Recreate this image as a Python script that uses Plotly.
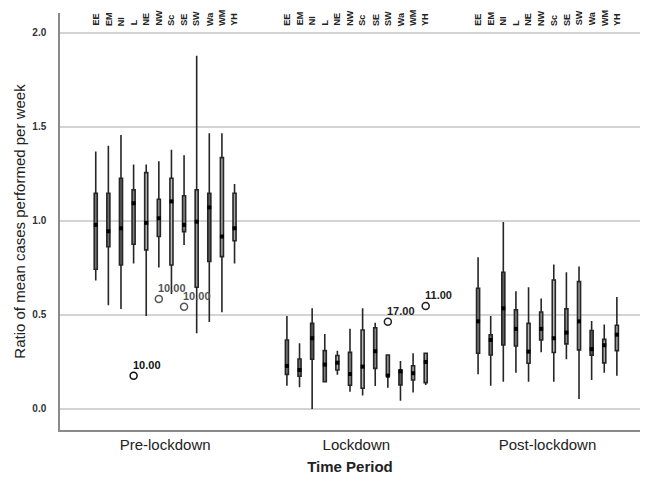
import plotly.graph_objects as go

periods = ["Pre-lockdown", "Lockdown", "Post-lockdown"]
regions = ["EE", "EM", "NI", "L", "NE", "NW", "Sc", "SE", "SW", "Wa", "WM", "YH"]
region_colors = ["#7a7a7a", "#6e6e6e", "#5e5e5e", "#808080", "#b4b4b4", "#8c8c8c",
                 "#bdbdbd", "#8a8a8a", "#9a9a9a", "#5c5c5c", "#aaaaaa", "#a2a2a2"]

# Pre-lockdown statistics (per region)
pre_lower = [0.683, 0.552, 0.532, 0.773, 0.495, 0.752, 0.612, 0.872, 0.403, 0.463, 0.514, 0.773]
pre_q1 = [0.743, 0.863, 0.766, 0.876, 0.846, 0.917, 0.766, 0.943, 0.647, 0.784, 0.810, 0.895]
pre_median = [0.979, 0.945, 0.961, 1.094, 0.990, 1.014, 1.104, 0.979, 0.996, 1.072, 0.917, 0.961]
pre_q3 = [1.147, 1.147, 1.227, 1.165, 1.257, 1.115, 1.227, 1.134, 1.165, 1.147, 1.337, 1.147]
pre_upper = [1.369, 1.400, 1.457, 1.300, 1.300, 1.317, 1.378, 1.349, 1.878, 1.466, 1.466, 1.197]

# Lockdown statistics
lock_lower = [0.124, 0.115, 0.000, 0.145, 0.182, 0.092, 0.071, 0.122, 0.113, 0.043, 0.087, 0.128]
lock_q1 = [0.184, 0.174, 0.264, 0.145, 0.207, 0.126, 0.110, 0.216, 0.177, 0.128, 0.154, 0.140]
lock_median = [0.229, 0.207, 0.376, 0.236, 0.246, 0.186, 0.225, 0.307, 0.177, 0.200, 0.190, 0.250]
lock_q3 = [0.367, 0.266, 0.455, 0.310, 0.284, 0.301, 0.420, 0.432, 0.287, 0.207, 0.230, 0.296]
lock_upper = [0.495, 0.349, 0.535, 0.399, 0.309, 0.427, 0.535, 0.459, 0.287, 0.255, 0.296, 0.296]

# Post-lockdown statistics
post_lower = [0.184, 0.124, 0.144, 0.193, 0.144, 0.301, 0.144, 0.264, 0.053, 0.154, 0.193, 0.176]
post_q1 = [0.296, 0.287, 0.340, 0.335, 0.243, 0.367, 0.300, 0.346, 0.314, 0.286, 0.245, 0.310]
post_median = [0.466, 0.367, 0.535, 0.426, 0.305, 0.426, 0.376, 0.406, 0.466, 0.318, 0.339, 0.395]
post_q3 = [0.642, 0.395, 0.727, 0.527, 0.455, 0.516, 0.686, 0.532, 0.677, 0.417, 0.370, 0.445]
post_upper = [0.807, 0.495, 0.995, 0.626, 0.647, 0.587, 0.768, 0.727, 0.757, 0.468, 0.449, 0.596]

# Outliers: period index, region, value, label
out_period = [0, 0, 0, 1, 1]
out_region = ["L", "NW", "SE", "SW", "YH"]
out_value = [0.177, 0.585, 0.544, 0.464, 0.548]
out_label = ["10.00", "10.00", "10.00", "17.00", "11.00"]
out_color = ["#111111", "#555555", "#555555", "#222222", "#222222"]

y_ticks = [0.0, 0.5, 1.0, 1.5, 2.0]

lowers = [pre_lower, lock_lower, post_lower]
q1s = [pre_q1, lock_q1, post_q1]
medians = [pre_median, lock_median, post_median]
q3s = [pre_q3, lock_q3, post_q3]
uppers = [pre_upper, lock_upper, post_upper]

STEP = 0.066
BOXW = 0.016


def xpos(p, i):
    return p + (i - (len(regions) - 1) / 2) * STEP


fig = go.Figure()
for i, reg in enumerate(regions):
    xs = [xpos(p, i) for p in range(len(periods))]
    fig.add_trace(go.Box(
        x=xs,
        lowerfence=[lowers[p][i] for p in range(3)],
        q1=[q1s[p][i] for p in range(3)],
        median=[medians[p][i] for p in range(3)],
        q3=[q3s[p][i] for p in range(3)],
        upperfence=[uppers[p][i] for p in range(3)],
        fillcolor=region_colors[i],
        line=dict(color="#262626", width=1.6),
        width=BOXW,
        whiskerwidth=0,
        boxpoints=False,
        showlegend=False,
        name=reg,
    ))
    fig.add_trace(go.Scatter(
        x=xs,
        y=[medians[p][i] for p in range(3)],
        mode="markers",
        marker=dict(symbol="square", size=4, color="#000000"),
        showlegend=False,
        hoverinfo="skip",
    ))

# outliers
ox = [xpos(p, regions.index(r)) for p, r in zip(out_period, out_region)]
fig.add_trace(go.Scatter(
    x=ox, y=out_value, mode="markers",
    marker=dict(symbol="circle-open", size=7, color=out_color, line=dict(width=1.5, color=out_color)),
    showlegend=False,
))
for x, v, lab, c in zip(ox, out_value, out_label, out_color):
    fig.add_annotation(x=x, y=v, xref="x", yref="y", text=lab, showarrow=False,
                       xanchor="left", yanchor="bottom", xshift=-3, yshift=3,
                       font=dict(family="Arial, Liberation Sans", size=11, color=c, weight="bold"))

# region labels at top
for p in range(len(periods)):
    for i, reg in enumerate(regions):
        fig.add_annotation(x=xpos(p, i), y=2.033, xref="x", yref="y", text=reg,
                           textangle=-90, showarrow=False, xanchor="center", yanchor="bottom",
                           borderpad=0,
                           font=dict(family="Arial, Liberation Sans", size=9, color="#222222", weight="bold"))

font_family = "Arial, Liberation Sans, sans-serif"
# page body has an 8px default margin, so the figure is sized to fit the window
fig.update_layout(
    width=641, height=476,
    margin=dict(l=52, r=9, t=5, b=54),
    plot_bgcolor="white", paper_bgcolor="white",
    boxmode="overlay",
    font=dict(family=font_family, color="#222222"),
    xaxis=dict(
        range=[-0.55, 2.484], tickvals=list(range(len(periods))), ticktext=periods,
        showgrid=False, zeroline=False, showline=True, linecolor="#8a8a8a", linewidth=1.5,
        tickfont=dict(size=15, color="#222222"), ticks="", automargin=False,
        title=dict(text="Time Period", font=dict(size=15, color="#222222", weight="bold"), standoff=10),
    ),
    yaxis=dict(
        range=[-0.112, 2.106], tickvals=y_ticks, ticktext=[f"{v:.1f}" for v in y_ticks],
        showgrid=True, gridcolor="#d4d4d4", gridwidth=1.5, zeroline=False,
        showline=True, linecolor="#8a8a8a", linewidth=1.5, ticks="", automargin=False,
        ticklabelstandoff=10,
        tickfont=dict(size=10, color="#333333", weight="bold"),
        title=dict(text="Ratio of mean cases performed per week", font=dict(size=15, color="#222222"), standoff=3),
    ),
)

fig.write_html("out.html")
